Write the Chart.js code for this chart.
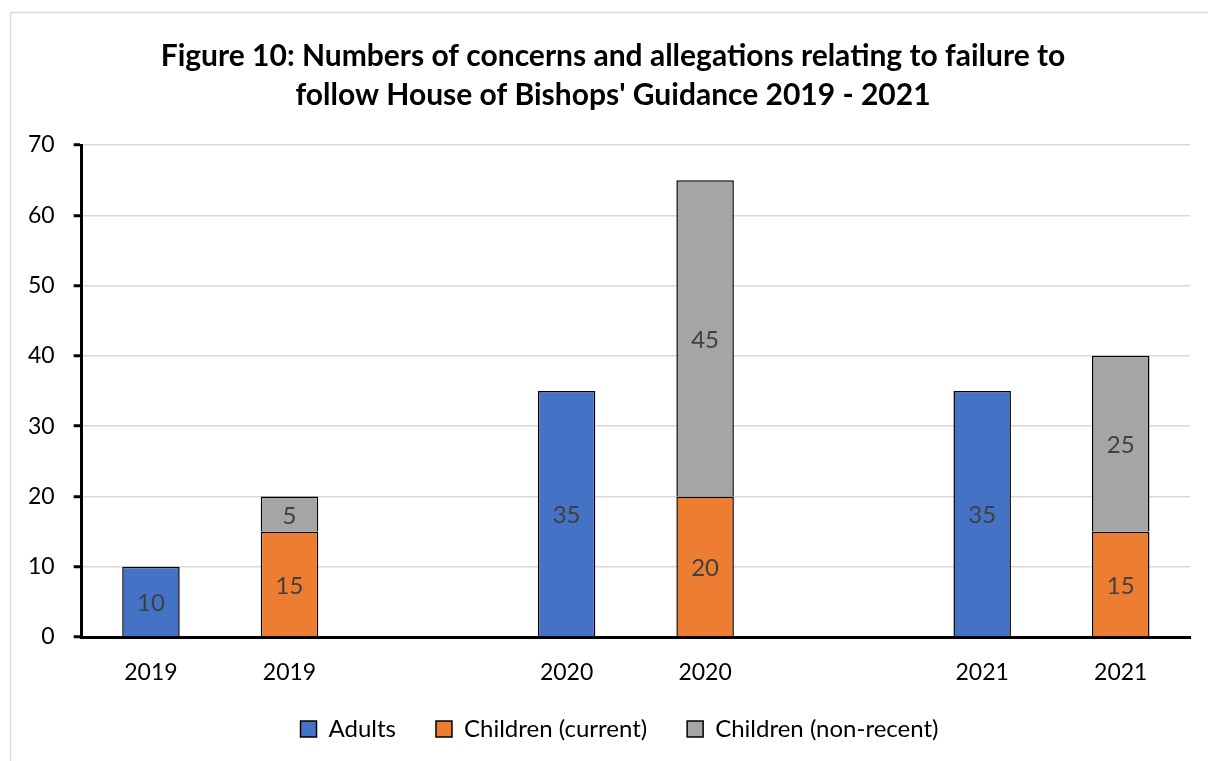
<!DOCTYPE html>
<html>
<head>
<meta charset="utf-8">
<script src="https://cdn.jsdelivr.net/npm/chart.js@4/dist/chart.umd.min.js"></script>
<style>
  html, body { margin: 0; padding: 0; background: #fff; }
  #wrap { width: 1208px; height: 761px; }
</style>
</head>
<body>
<div id="wrap"><canvas id="chart" width="1208" height="761"></canvas></div>
<script>
// Chart data
const categories = ['2019', '2019', '', '2020', '2020', '', '2021', '2021'];
const adults = [10, null, null, 35, null, null, 35, null];
const childrenCurrent = [null, 15, null, null, 20, null, null, 15];
const childrenNonRecent = [null, 5, null, null, 45, null, null, 25];
const yTicks = [0, 10, 20, 30, 40, 50, 60, 70];
const titleLines = ['Figure 10: Numbers of concerns and allegations relating to failure to',
                    "follow House of Bishops' Guidance 2019 - 2021"];

const FONT = 'Lato, "Liberation Sans", sans-serif';

// Outer chart frame like the Excel chart area
const framePlugin = {
    id: 'frame',
    beforeDraw(chart) {
        const ctx = chart.ctx;
        ctx.save();
        ctx.fillStyle = '#fff';
        ctx.fillRect(0, 0, chart.width, chart.height);
        ctx.strokeStyle = '#d9d9d9';
        ctx.lineWidth = 1.5;
        ctx.strokeRect(10.5, 12.5, 1300, 800);
        ctx.restore();
    }
};

// Title, centred over the whole chart box (not the padded area)
const titlePlugin = {
    id: 'figTitle',
    afterDraw(chart) {
        const ctx = chart.ctx;
        ctx.save();
        ctx.font = 'bold 30px ' + FONT;
        ctx.fillStyle = '#000';
        ctx.textAlign = 'center';
        ctx.textBaseline = 'middle';
        ctx.fillText(titleLines[0], 613, 56);
        ctx.fillText(titleLines[1], 613, 95);
        ctx.restore();
    }
};

// Excel centres the legend under the whole chart box, nudge it right a bit.
// Also let the x labels overhang the (squeezed) axis box so they aren't clipped.
const layoutTweaks = {
    id: 'layoutTweaks',
    afterLayout(chart) {
        chart.legend.left += 20;
        chart.legend.right += 20;
        chart.scales.x.bottom += 16;
    }
};

// Value labels centred in each bar segment
const valueLabels = {
    id: 'valueLabels',
    afterDatasetsDraw(chart) {
        const ctx = chart.ctx;
        ctx.save();
        ctx.font = '24px ' + FONT;
        ctx.fillStyle = '#404040';
        ctx.textAlign = 'center';
        ctx.textBaseline = 'middle';
        chart.data.datasets.forEach((ds, i) => {
            const meta = chart.getDatasetMeta(i);
            meta.data.forEach((bar, j) => {
                const v = ds.data[j];
                if (v == null || v === 0) return;
                ctx.fillText(String(v), bar.x, (bar.y + bar.base) / 2 + 2);
            });
        });
        ctx.restore();
    }
};

const ctx = document.getElementById('chart').getContext('2d');
new Chart(ctx, {
    type: 'bar',
    data: {
        labels: categories,
        datasets: [{
            label: 'Adults',
            data: adults,
            backgroundColor: '#4472c4',
            borderColor: '#000',
            borderWidth: 1.5
        }, {
            label: 'Children (current)',
            data: childrenCurrent,
            backgroundColor: '#ed7d31',
            borderColor: '#000',
            borderWidth: 1.5
        }, {
            label: 'Children (non-recent)',
            data: childrenNonRecent,
            backgroundColor: '#a5a5a5',
            borderColor: '#000',
            borderWidth: 1.5
        }]
    },
    options: {
        responsive: false,
        animation: false,
        layout: { padding: { left: 9, right: 18, top: 145, bottom: 10 } },
        datasets: {
            bar: { categoryPercentage: 1, barPercentage: 0.415, skipNull: false }
        },
        scales: {
            x: {
                stacked: true,
                grid: { display: false, drawTicks: false },
                border: { display: true, color: '#000', width: 3 },
                ticks: { color: '#000', font: { size: 23, family: FONT }, padding: 22 },
                afterFit(axis) { axis.height = 40; }
            },
            y: {
                stacked: true,
                min: 0,
                max: 70,
                afterBuildTicks(axis) { axis.ticks = yTicks.map(v => ({ value: v })); },
                grid: { color: '#d9d9d9', lineWidth: 1.5, tickColor: '#000', tickLength: 8, tickWidth: 3 },
                border: { display: true, color: '#000', width: 3 },
                ticks: { color: '#000', font: { size: 23, family: FONT }, padding: 19 }
            }
        },
        plugins: {
            title: { display: false },
            legend: {
                position: 'bottom',
                labels: {
                    color: '#000',
                    font: { size: 24, family: FONT },
                    boxWidth: 16,
                    boxHeight: 16,
                    padding: 40
                }
            },
            tooltip: { enabled: false }
        }
    },
    plugins: [framePlugin, titlePlugin, layoutTweaks, valueLabels]
});
</script>
</body>
</html>
